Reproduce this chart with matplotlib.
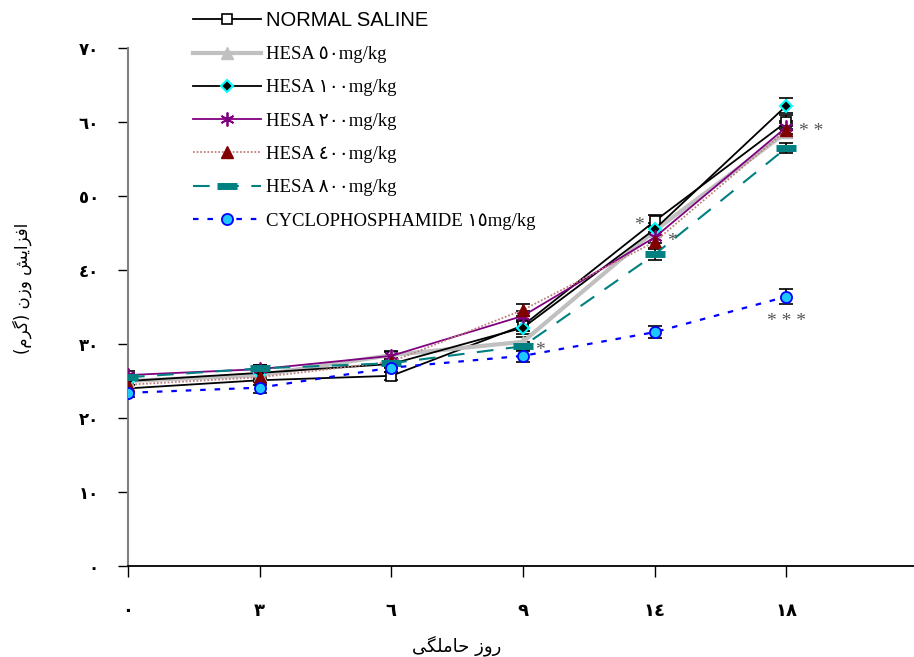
#!/usr/bin/env python3
#
# Weight gain during pregnancy, by treatment group
#
import matplotlib
matplotlib.use('Agg')
import matplotlib.pyplot as plt
import numpy as np

# Data
day_labels = ['٠', '٣', '٦', '٩', '١٤', '١٨']
y_ticks = [0, 10, 20, 30, 40, 50, 60, 70]
y_tick_labels = ['٠', '١٠', '٢٠', '٣٠', '٤٠', '٥٠', '٦٠', '٧٠']

group_names = [
    'NORMAL SALINE',
    'HESA ٥٠mg/kg',
    'HESA ١٠٠mg/kg',
    'HESA ٢٠٠mg/kg',
    'HESA ٤٠٠mg/kg',
    'HESA ٨٠٠mg/kg',
    'CYCLOPHOSPHAMIDE ١٥mg/kg',
]
saline = [24.0, 25.1, 25.7, 32.5, 46.6, 60.0]
hesa50 = [25.0, 25.8, 28.5, 30.3, 45.3, 58.6]
hesa100 = [25.0, 26.1, 27.3, 32.2, 45.5, 62.2]
hesa200 = [25.8, 26.6, 28.4, 33.8, 44.4, 59.3]
hesa400 = [24.5, 25.5, 27.6, 34.6, 43.8, 58.9]
hesa800 = [25.5, 26.7, 27.4, 29.7, 42.1, 56.5]
cyclo = [23.4, 24.1, 26.8, 28.4, 31.6, 36.4]

saline_err = [0.5, 0.6, 0.5, 0.8, 0.8, 1.0]
hesa50_err = [0.5, 0.5, 0.5, 0.6, 0.7, 0.8]
hesa100_err = [0.5, 0.6, 0.5, 0.8, 0.8, 1.0]
hesa200_err = [0.5, 0.5, 0.5, 0.7, 0.8, 0.9]
hesa400_err = [0.5, 0.5, 0.5, 0.8, 0.8, 0.9]
hesa800_err = [0.5, 0.5, 0.5, 0.6, 0.7, 0.7]
cyclo_err = [0.6, 0.7, 0.6, 0.8, 0.8, 1.0]

# Significance marks: (text, group index, day index)
stars = [
    ('*', 5, 3),
    ('*', 0, 4),
    ('*', 3, 4),
    ('* *', 3, 5),
    ('* * *', 6, 5),
]

# Arabic text in visual (left-to-right) order, with presentation forms
xlabel = '\ufef0\ufb95\ufee0\ufee3\ufe8e\ufea3 \ufeaf\ufeed\ufead'
ylabel = ('(\ufee1\ufeae\ufb94) \ufee5\ufeaf\ufeed '
          '\ufeb6\ufbfe\ufe8d\ufeb0\ufed3\ufe8d')

#
# Create figure
#
fig = plt.figure(figsize=(9.14, 6.57), dpi=100)
ax = fig.add_axes([128 / 914, 1 - 566 / 657, 1 - 128 / 914, (566 - 48) / 657])

x = np.arange(len(day_labels))
series = [saline, hesa50, hesa100, hesa200, hesa400, hesa800, cyclo]
errors = [saline_err, hesa50_err, hesa100_err, hesa200_err, hesa400_err,
          hesa800_err, cyclo_err]
styles = [
    dict(color='k', lw=1.3, ls='-', marker='s', ms=7, mfc='w', mec='k',
         mew=1.2),
    dict(color='#c0c0c0', lw=3.0, ls='-', marker='^', ms=9, mfc='#c0c0c0',
         mec='#c0c0c0'),
    dict(color='k', lw=1.3, ls='-', marker='D', ms=6.5, mfc='k',
         mec='#00ffff', mew=1.5),
    dict(color='#800080', lw=1.3, ls='-', marker=(6, 2, 0), ms=10,
         mec='#800080', mew=1.3),
    dict(color='#c08080', lw=1.3, ls=(0, (1, 1)), marker='^', ms=9,
         mfc='#800000', mec='#800000'),
    dict(color='#008080', lw=1.5, ls=(0, (8, 6)), marker='_', ms=15,
         mec='#008080', mew=5),
    dict(color='#0000ff', lw=1.6, ls=(0, (2.5, 4)), marker='o', ms=8,
         mfc='#1ec8ff', mec='#0000ff', mew=1.3),
]

handles = []
for ys, es, st, name in zip(series, errors, styles, group_names):
    ax.errorbar(x, ys, yerr=es, fmt='none', ecolor='k', elinewidth=1.2,
                capsize=5, capthick=1.2, zorder=2)
    h, = ax.plot(x, ys, label=name, zorder=3, **st)
    handles.append(h)

for txt, g, d in stars:
    if txt.count('*') == 3:
        off, ha = (0, -18), 'center'
    elif g == 0:
        off, ha = (-8, -3), 'right'
    else:
        off, ha = (9, -3), 'left'
    ax.annotate(txt, (x[d], series[g][d]), xytext=off,
                textcoords='offset points', ha=ha, va='center',
                fontsize=14, color='#555555', family='Liberation Serif')

ax.set_xlim(0, 5.97)
ax.set_ylim(0, 70)
ax.set_xticks(x)
ax.set_xticklabels(day_labels, fontsize=13, fontweight='bold',
                   family='DejaVu Sans')
ax.set_yticks(y_ticks)
ax.set_yticklabels(y_tick_labels, fontsize=12, fontweight='bold',
                   family='DejaVu Sans')
ax.tick_params(axis='x', direction='out', length=8, width=1, pad=18)
ax.tick_params(axis='y', direction='out', length=7, width=1, pad=14)
ax.spines['top'].set_visible(False)
ax.spines['right'].set_visible(False)
ax.spines['left'].set_color('#808080')
ax.spines['left'].set_linewidth(1.5)
ax.spines['bottom'].set_linewidth(1.3)

ax.text(2.5, -0.153, xlabel, transform=ax.get_xaxis_transform(),
        ha='center', va='center', fontsize=13, family='DejaVu Sans')
fig.text(22 / 914, 1 - 288 / 657, ylabel, rotation=90, ha='center',
         va='center', fontsize=12, family='DejaVu Sans')

leg = fig.legend(handles=handles, loc='upper left',
                 bbox_to_anchor=(193 / 914, 1 - 11 / 657), frameon=False,
                 fontsize=13.5, handlelength=3.6, handletextpad=0.3,
                 labelspacing=0.86, borderpad=0, borderaxespad=0)
for i, t in enumerate(leg.get_texts()):
    if i == 0:
        t.set_fontfamily(['Liberation Sans', 'DejaVu Sans'])
        t.set_fontsize(14.5)
    else:
        t.set_fontfamily(['Liberation Serif', 'DejaVu Sans'])

fig.savefig('out.png', dpi=100)
